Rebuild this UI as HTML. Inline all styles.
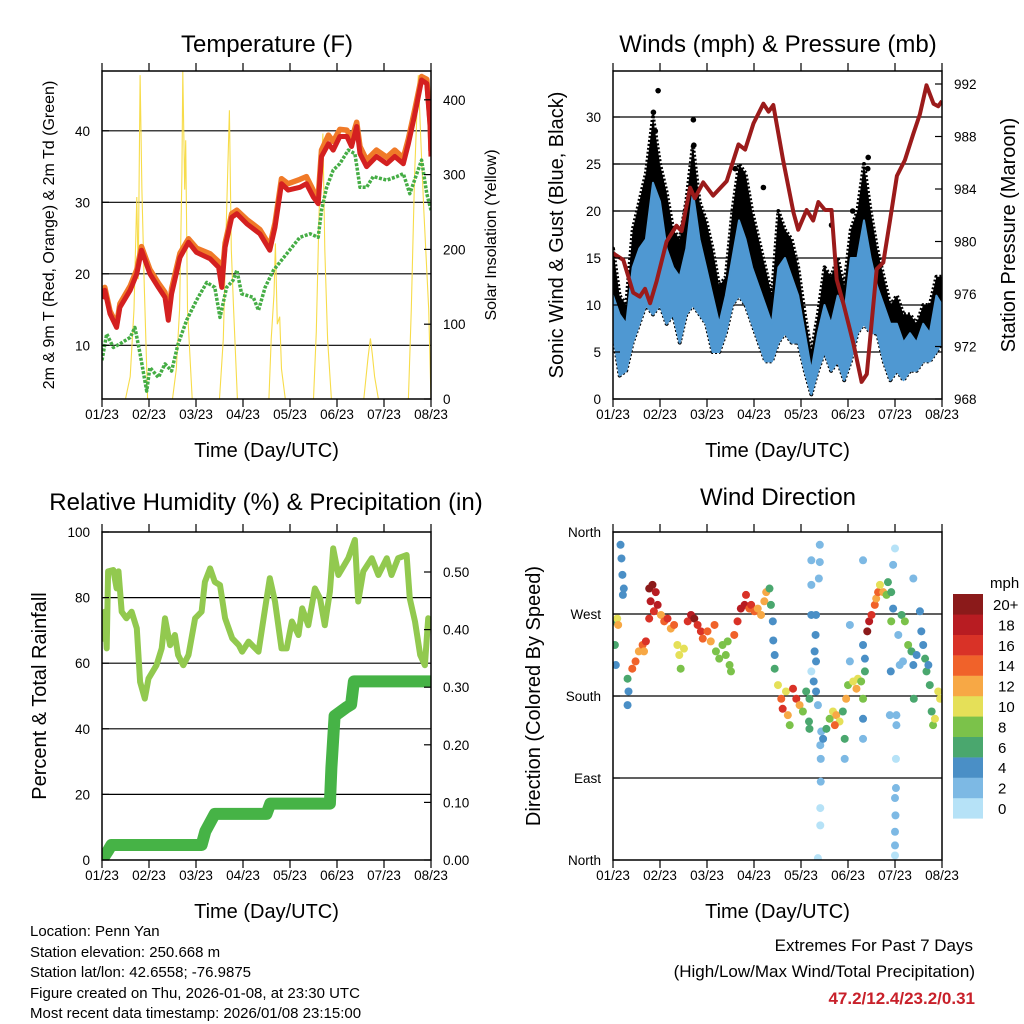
<!DOCTYPE html>
<html><head><meta charset="utf-8"><style>
html,body{margin:0;padding:0;background:#fff;}
svg{display:block;font-family:"Liberation Sans",Arial,sans-serif;}
</style></head><body>
<svg id="chart" width="1024" height="1024" viewBox="0 0 1024 1024" xmlns="http://www.w3.org/2000/svg">
<defs>
<clipPath id="c1"><rect x="102" y="71" width="329" height="328"/></clipPath>
<clipPath id="c2"><rect x="613" y="71" width="329" height="328"/></clipPath>
<clipPath id="c3"><rect x="102" y="532" width="329" height="328"/></clipPath>
<clipPath id="c4"><rect x="613" y="532" width="329" height="328"/></clipPath>
</defs>
<g id="g1"></g>
<g id="g2"></g>
<g id="g3"></g>
<g id="g4"></g>
<g font-size="15" fill="#000">
<text x="30" y="936">Location: Penn Yan</text>
<text x="30" y="957">Station elevation: 250.668 m</text>
<text x="30" y="977">Station lat/lon: 42.6558; -76.9875</text>
<text x="30" y="998">Figure created on Thu, 2026-01-08, at 23:30 UTC</text>
<text x="30" y="1018">Most recent data timestamp: 2026/01/08 23:15:00</text>
</g>
<g text-anchor="end">
<text x="973" y="951" font-size="17">Extremes For Past 7 Days</text>
<text x="975" y="977" font-size="17">(High/Low/Max Wind/Total Precipitation)</text>
<text x="975" y="1004" font-size="17" font-weight="bold" fill="#c8202a">47.2/12.4/23.2/0.31</text>
</g>
</svg>
<script>
// ---------- Temperature panel data ----------
const tempDays = [0,0.06,0.17,0.31,0.38,0.6,0.74,0.84,1.02,1.2,1.34,1.41,1.48,1.66,1.84,2.01,2.3,2.48,2.55,2.62,2.76,2.87,3.08,3.36,3.57,3.68,3.82,3.96,4.21,4.35,4.5,4.6,4.67,4.82,4.92,5.06,5.21,5.31,5.42,5.49,5.63,5.84,6.06,6.23,6.41,6.52,6.66,6.8,6.91,6.98,7.0];
const tempRed = [16.5,17.7,14.4,12.5,15.3,17.7,20,23.3,20,18.1,16.7,13.5,17.2,22.3,24.4,23,22.1,20.9,18.1,23.7,27.9,28.4,27,25.6,23.3,26.5,32.6,31.7,32.1,32.6,30.7,29.8,36.4,38.2,37.3,39.2,39.2,37.8,40.6,36.8,35,36.4,35.4,36.4,35.4,38.2,42.4,47.1,46.6,40.6,36.4];
const tempOrange = [16.8,18.1,14.8,12.9,15.8,18.3,20.6,23.8,20.6,18.7,17.4,14.2,17.9,22.9,24.9,23.6,22.8,21.7,19.2,24.3,28.4,28.9,27.6,26.2,23.9,27.1,33.3,32.6,33.2,33.6,31.6,30.7,37.3,39.4,38.5,40.2,40.1,38.8,41.2,37.8,35.9,37.3,36.3,37.3,36.2,38.9,43.1,47.6,47.2,41.3,37.2];
const dewDays = [0,0.1,0.24,0.38,0.6,0.7,0.81,0.95,1.02,1.2,1.34,1.48,1.62,1.8,2.01,2.23,2.4,2.51,2.65,2.79,2.87,2.97,3.22,3.33,3.47,3.65,3.93,4.21,4.43,4.6,4.67,4.78,4.92,5.06,5.24,5.38,5.49,5.63,5.77,6.06,6.27,6.41,6.55,6.8,6.91,7.0];
const dewPoint = [7.9,11.6,9.7,10.2,11.1,12.5,8.8,3.6,6.9,5.5,7.4,6.4,10.2,13.5,16.3,18.8,18.1,13.9,18.1,19.1,20.5,17.2,16.7,14.9,18.1,20.5,22.8,25.1,25.6,25.1,28.9,32.1,34.5,35.4,37.3,36.8,32.1,32.1,33.6,33.1,33.6,34,31.2,35.9,31.2,28.9];
const solarDays = [0,0.5,0.6,0.68,0.74,0.77,0.81,0.85,0.9,0.97,1.5,1.58,1.65,1.7,1.72,1.76,1.78,1.82,1.92,2.5,2.58,2.65,2.71,2.75,2.8,2.88,3.55,3.6,3.66,3.69,3.73,3.78,3.82,3.9,4.5,4.56,4.62,4.7,4.74,4.8,4.88,5.57,5.62,5.66,5.71,5.75,5.8,5.88,6.52,6.58,6.65,6.73,6.78,6.85,6.95,7.0];
const solarVals = [0,0,30,120,270,160,433,280,150,0,0,40,120,300,438,280,346,120,0,0,80,250,386,200,120,0,0,80,140,208,100,110,40,0,0,90,250,355,200,80,0,0,30,55,81,60,30,0,0,120,300,433,350,250,120,0];
const tempTicks = [10,20,30,40];
const solarTicks = [0,100,200,300,400];
const dayLabels = ["01/23","02/23","03/23","04/23","05/23","06/23","07/23","08/23"];

// ---------- Winds panel data ----------
const windDays = [0,0.14,0.28,0.42,0.56,0.7,0.85,1.0,1.14,1.28,1.42,1.56,1.7,1.84,1.98,2.12,2.26,2.4,2.54,2.68,2.82,2.96,3.1,3.24,3.38,3.52,3.66,3.8,3.94,4.08,4.22,4.36,4.5,4.64,4.78,4.92,5.06,5.2,5.34,5.48,5.62,5.76,5.9,6.04,6.18,6.32,6.46,6.6,6.74,6.88,7.0];
const windLo = [7,2.5,3,6,8,10,9,10,8,9,6,9,10,9,8,5,5,7,10,11,10,8,6,4,4,6,7,6,6,3,0.5,3,5,3,4,2,4,7,8,7,7,4,2,3,2,3,3,4,4,5,6];
const windHi = [11,9,8,14,16,17,23,21,16,14,13,16,22,17,14,11,8,11,15,19,17,14,12,10,8,14,15,13,11,7,3,7,10,8,11,9,15,15,19,15,12,10,8,8,6,7,6,8,7,11,10];
const gustHi = [16,11,10,18,21,24,30,25,22,18,17,21,27,21,19,16,12,13,20,25,24,20,17,14,11,20,18,17,14,9,5,9,14,13,15,12,18,20,25,20,16,13,10,11,9,9,8,10,10,13,13];
const gustDotDays = [0.96,0.86,0.9,1.71,1.72,2.6,3.2,5.43,5.42,5.1,4.65];
const gustDotVals = [32.8,30.5,28.5,29.7,27,24.5,22.5,25.7,24.5,20,18.5];
const presDays = [0,0.22,0.43,0.57,0.68,0.79,0.93,1.14,1.35,1.46,1.64,1.74,1.92,2.13,2.42,2.67,2.81,2.99,3.2,3.31,3.41,3.62,3.84,3.94,4.12,4.26,4.37,4.51,4.65,4.76,4.9,5.11,5.29,5.4,5.61,5.75,5.89,6.04,6.21,6.39,6.53,6.67,6.82,6.92,7.0];
const presVals = [979.1,978.6,976.1,975.8,976.4,975.3,977,980,981.2,980.8,984.1,983.3,984.5,983.5,984.6,987.4,987,989,990.5,989.9,990.4,986.2,982.2,980.9,982.4,981.6,983,982.4,982.4,977.1,975.3,972.3,969.3,969.9,977.9,978.4,981.5,985,986.2,988.2,989.7,991.9,990.5,990.3,990.7];
const windTicks = [0,5,10,15,20,25,30];
const presTicks = [968,972,976,980,984,988,992];

// ---------- Humidity panel data ----------
const rhDays = [0,0.06,0.1,0.13,0.24,0.31,0.35,0.42,0.52,0.63,0.74,0.81,0.91,0.99,1.16,1.27,1.34,1.45,1.55,1.62,1.73,1.84,1.98,2.12,2.19,2.3,2.4,2.51,2.62,2.77,2.91,2.98,3.12,3.33,3.47,3.57,3.68,3.82,3.93,4.04,4.18,4.26,4.39,4.53,4.64,4.74,4.85,4.92,5.03,5.24,5.38,5.45,5.56,5.74,5.88,6.06,6.16,6.3,6.48,6.55,6.66,6.77,6.87,6.94,7.0];
const rhVals = [66.6,75.7,64.5,88,88.4,82.8,88,75.7,73.7,75.7,70.6,54.3,49.2,55.3,59.4,64.5,73.7,65.5,68.6,62.5,59.4,62.5,73.7,75.7,84.8,88.9,84.8,83.8,73.7,67.6,65.5,63.5,66.6,63.5,76.7,85.9,78.8,64.5,64.5,72.7,68.6,76.7,71.6,82.8,79.7,71.6,81.8,95,86.9,92,97.6,78.8,88,92,86.9,92,86.9,92,93,79.7,72.7,62.5,59.4,73.7,72.7];
const precipDays = [0,0.12,0.2,2.12,2.2,2.4,3.5,3.58,4.85,4.88,4.95,5.2,5.3,5.36,5.45,7.0];
const precipVals = [0,0.015,0.026,0.026,0.05,0.08,0.08,0.098,0.098,0.16,0.25,0.265,0.27,0.31,0.31,0.31];
const rhTicks = [0,20,40,60,80,100];
const precipTicks = ["0.00","0.10","0.20","0.30","0.40","0.50"];

// ---------- Wind direction panel data ----------
const dirDays = [.16,.18,.2,.23,.21,.02,.04,.06,.09,.11,.31,.33,.31,.41,.48,.55,.63,.7,.66,.77,.84,.91,.8,.87,.95,.77,1.02,1.09,1.16,1.23,1.3,1.37,1.41,1.44,1.51,1.59,1.66,1.73,1.8,1.87,1.91,2.01,2.08,2.16,2.19,2.26,2.33,2.4,2.48,2.51,2.44,2.58,2.65,2.72,2.8,2.83,2.9,2.94,3.01,3.08,3.15,3.22,3.26,3.33,3.36,3.4,3.41,3.44,3.44,3.51,3.58,3.61,3.68,3.72,3.76,3.83,3.9,3.97,4.04,4.11,4.18,4.22,4.4,4.4,4.38,4.22,4.22,4.32,4.31,4.29,4.32,4.22,4.27,4.32,4.36,4.43,4.41,4.42,4.42,4.41,4.41,4.36,4.17,4.18,4.47,4.54,4.61,4.68,4.75,4.82,4.89,4.93,4.93,4.72,4.96,5.0,5.04,5.04,5.11,5.18,5.21,5.28,5.32,5.32,5.32,5.36,5.36,5.32,5.32,5.41,5.45,5.5,5.57,5.6,5.64,5.68,5.75,5.82,5.85,5.96,6.0,5.92,5.96,5.92,6.07,6.14,6.21,6.28,6.35,6.39,6.46,6.53,6.56,6.6,6.64,6.67,6.71,6.74,6.78,6.81,6.85,6.92,6.96,6.1,6.17,6.39,6.03,6.03,6.02,6.02,6.0,6.01,6.0,6.0,6.0,5.91,5.89,6.4];
const dirDeg = [346,331,313,298,291,262,236,214,265,258,199,185,170,210,218,229,236,240,229,298,302,294,284,273,280,265,269,262,265,254,258,236,225,210,232,262,269,265,258,251,243,251,240,258,229,221,236,225,214,207,240,247,262,276,280,291,276,280,273,276,269,284,294,298,280,262,241,225,210,192,177,166,185,159,148,188,177,170,163,185,177,329,346,327,309,302,269,269,247,229,218,207,196,185,170,141,126,111,86,57,38,2,152,144,133,144,155,163,159,152,163,133,111,148,177,192,218,258,196,188,199,196,177,155,133,207,221,236,329,251,262,269,280,287,294,302,294,291,305,324,342,294,276,262,247,269,262,236,229,214,225,273,251,236,221,207,214,192,163,148,155,185,177,214,218,309,159,148,111,79,68,49,31,16,5,207,159,177];
const dirSpd = [4,4,4,5,4,6,6,4,10,12,6,4,4,14,14,12,14,16,12,20,20,18,18,16,18,16,12,14,16,12,14,10,10,8,10,16,18,20,16,16,14,14,12,14,8,8,8,8,8,8,8,14,16,18,18,16,14,16,14,12,12,12,12,6,6,4,4,4,6,10,14,16,10,12,8,16,16,12,8,6,6,2,2,2,2,2,4,4,4,4,4,0,4,4,2,2,2,2,2,0,0,0,6,6,4,6,8,10,12,10,6,6,2,14,12,8,2,2,10,12,10,8,8,4,2,6,4,4,2,20,18,16,14,12,14,10,12,8,6,2,0,6,4,8,2,6,8,8,6,4,4,4,4,4,6,6,4,6,6,8,10,10,10,2,2,2,2,2,0,2,2,2,2,2,0,4,2,6];
const dirTicks = ["North","West","South","East","North"];
const dirTickDeg = [360,270,180,90,0];
const speedBins = ["0","2","4","6","8","10","12","14","16","18","20+"];
const speedColors = ["#b6e2f7","#7db9e4","#4a8fc6","#4aa76e","#7bc24a","#e5e058","#f7a845","#f0622a","#d93227","#b81c22","#8b1a1a"];

// ---------- helpers ----------
const NS = "http://www.w3.org/2000/svg";
function mk(parent, tag, attrs, text) {
  const e = document.createElementNS(NS, tag);
  for (const k in attrs) e.setAttribute(k, attrs[k]);
  if (text !== undefined) e.textContent = text;
  parent.appendChild(e);
  return e;
}
const xL = d => 102 + d * 47;
const xR = d => 613 + d * 47;
const yT = t => 345.3 - (t - 10) * 7.15;
const yS = s => 399 - s * 0.748;
const yW = w => 399 - w * 9.4;
const yP = p => 399 - (p - 968) * 13.125;
const yRH = r => 860 - r * 3.28;
const yPr = v => 860 - v * 576;
const yD = d => 860 - d * 0.911;
function pts(xs, ys, fx, fy) { return xs.map((x, i) => fx(x).toFixed(1) + "," + fy(ys[i]).toFixed(1)).join(" "); }

function frame(g, x0, y0, w, h, xf, grids, yf) {
  grids.forEach(v => {
    const gl = mk(g, "line", {x1: x0, x2: x0 + w, y1: yf(v), y2: yf(v), stroke: "#000", "stroke-width": 1.2});
    
    
  });
}
function axesBox(g, x0, y0, w, h, xf, botY, titleY) {
  const b = mk(g, "rect", {x: x0, y: y0, width: w, height: h, fill: "none", stroke: "#000", "stroke-width": 1.5});
  
  
  dayLabels.forEach((lab, i) => {
    const x = xf(i);
    mk(g, "line", {x1: x, x2: x, y1: y0, y2: y0 - 8, stroke: "#000", "stroke-width": 1.2});
    mk(g, "line", {x1: x, x2: x, y1: y0 + h, y2: y0 + h + 8, stroke: "#000", "stroke-width": 1.2});
    const t = mk(g, "text", {x: x, y: botY, "font-size": 13.5, "text-anchor": "middle"}, lab);
    
    
  });
  const xt = mk(g, "text", {x: x0 + w / 2, y: titleY, "font-size": 20, "text-anchor": "middle"}, "Time (Day/UTC)");
  
  
}
function yTicks(g, vals, labels, yf, xAxis, side) {
  vals.forEach((v, i) => {
    const y = yf(v);
    const dir = side === "left" ? 1 : -1;
    mk(g, "line", {x1: xAxis, x2: xAxis + dir * 7, y1: y, y2: y, stroke: "#000", "stroke-width": 1.2});
    const t = mk(g, "text", {x: side === "left" ? xAxis - 12 : xAxis + 12, y: y + 5, "font-size": 13.5, "text-anchor": side === "left" ? "end" : "start"}, labels[i]);
    
    
  });
}
function title(g, x, y, s, name) {
  const t = mk(g, "text", {x: x, y: y, "font-size": 24, "text-anchor": "middle"}, s);
  
  
}
function vtitle(g, x, y, s, size, name) {
  const t = mk(g, "text", {x: x, y: y, "font-size": size, "text-anchor": "middle", transform: "rotate(-90 " + x + " " + y + ")"}, s);
  
  
}

// ---------- Panel 1 ----------
const g1 = document.getElementById("g1");
title(g1, 267, 52, "Temperature (F)", "temperature-title");
frame(g1, 102, 71, 329, 328, xL, tempTicks, yT);
const c1 = mk(g1, "g", {"clip-path": "url(#c1)"});
const sol = mk(c1, "polyline", {points: pts(solarDays, solarVals, xL, yS), fill: "none", stroke: "#f7dc4a", "stroke-width": 1.1});


const dew = mk(c1, "polyline", {points: pts(dewDays, dewPoint, xL, yT), fill: "none", stroke: "#45ad45", "stroke-width": 3.5, "stroke-dasharray": "3 1.5", "stroke-linejoin": "round"});


const ora = mk(c1, "polyline", {points: pts(tempDays, tempOrange, xL, yT), fill: "none", stroke: "#f07a28", "stroke-width": 5.5, "stroke-linejoin": "round"});


const red = mk(c1, "polyline", {points: pts(tempDays, tempRed, xL, yT), fill: "none", stroke: "#d42020", "stroke-width": 5, "stroke-linejoin": "round"});


axesBox(g1, 102, 71, 329, 328, xL, 419, 457);
yTicks(g1, tempTicks, tempTicks.map(String), yT, 102, "left");
yTicks(g1, solarTicks, solarTicks.map(String), yS, 431, "right");
vtitle(g1, 54, 235, "2m & 9m T (Red, Orange) & 2m Td (Green)", 16, "left-y-axis-title");
vtitle(g1, 496, 235, "Solar Insolation (Yellow)", 16, "right-y-axis-title");

// ---------- Panel 2 ----------
const g2 = document.getElementById("g2");
title(g2, 778, 52, "Winds (mph) & Pressure (mb)", "winds-title");
frame(g2, 613, 71, 329, 328, xR, windTicks.slice(1), yW);
const c2 = mk(g2, "g", {"clip-path": "url(#c2)"});
const gpts = pts(windDays, gustHi, xR, yW) + " " + pts(windDays.slice().reverse(), windLo.slice().reverse(), xR, yW);
const gust = mk(c2, "polygon", {points: gpts, fill: "#000", stroke: "#000", "stroke-width": 4, "stroke-dasharray": "2 2", "stroke-linejoin": "round"});


gustDotDays.forEach((d, i) => {
  const c = mk(c2, "circle", {cx: xR(d), cy: yW(gustDotVals[i]), r: 2.8, fill: "#000"});
  
  
});
const wpts = pts(windDays, windHi, xR, yW) + " " + pts(windDays.slice().reverse(), windLo.slice().reverse(), xR, yW);
const wind = mk(c2, "polygon", {points: wpts, fill: "#4f98d2", stroke: "#4f98d2", "stroke-width": 2, "stroke-linejoin": "round"});


const pres = mk(c2, "polyline", {points: pts(presDays, presVals, xR, yP), fill: "none", stroke: "#9b1b1b", "stroke-width": 4, "stroke-linejoin": "round"});


axesBox(g2, 613, 71, 329, 328, xR, 419, 457);
yTicks(g2, windTicks, windTicks.map(String), yW, 613, "left");
yTicks(g2, presTicks, presTicks.map(String), yP, 942, "right");
vtitle(g2, 563, 235, "Sonic Wind & Gust (Blue, Black)", 20, "left-y-axis-title");
vtitle(g2, 1015, 235, "Station Pressure (Maroon)", 20, "right-y-axis-title");

// ---------- Panel 3 ----------
const g3 = document.getElementById("g3");
title(g3, 266, 510, "Relative Humidity (%) & Precipitation (in)", "humidity-title");
frame(g3, 102, 532, 329, 328, xL, [20, 40, 60, 80], yRH);
const c3 = mk(g3, "g", {"clip-path": "url(#c3)"});
const rh = mk(c3, "polyline", {points: pts(rhDays, rhVals, xL, yRH), fill: "none", stroke: "#92c94f", "stroke-width": 6, "stroke-linejoin": "round"});


const pr = mk(c3, "polyline", {points: pts(precipDays, precipVals, xL, yPr), fill: "none", stroke: "#46b346", "stroke-width": 12, "stroke-linejoin": "round", "stroke-linecap": "round"});


axesBox(g3, 102, 532, 329, 328, xL, 880, 918);
yTicks(g3, rhTicks, rhTicks.map(String), yRH, 102, "left");
yTicks(g3, precipTicks.map(Number), precipTicks, yPr, 431, "right");
vtitle(g3, 46, 696, "Percent & Total Rainfall", 20, "left-y-axis-title");

// ---------- Panel 4 ----------
const g4 = document.getElementById("g4");
title(g4, 778, 505, "Wind Direction", "wind-direction-title");
frame(g4, 613, 532, 329, 328, xR, [270, 180, 90], yD);
const c4 = mk(g4, "g", {"clip-path": "url(#c4)"});
dirDays.forEach((d, i) => {
  const idx = Math.min(10, Math.floor(dirSpd[i] / 2));
  const c = mk(c4, "circle", {cx: xR(d), cy: yD(dirDeg[i]), r: 4, fill: speedColors[idx]});
  
  
});
axesBox(g4, 613, 532, 329, 328, xR, 880, 918);
yTicks(g4, dirTickDeg, dirTicks, yD, 613, "left");
vtitle(g4, 540, 696, "Direction (Colored By Speed)", 20, "left-y-axis-title");
const lg = mk(g4, "g", {});


mk(lg, "text", {x: 990, y: 588, "font-size": 15}, "mph");
speedBins.forEach((lab, i) => {
  const y = 594 + (10 - i) * 20.4;
  const r = mk(lg, "rect", {x: 953, y: y, width: 30, height: 20.6, fill: speedColors[i]});
  
  
  const t = mk(lg, "text", {x: lab.length > 2 ? 993 : 998, y: y + 16, "font-size": 15}, lab);
  
  
});
</script>
</body></html>
